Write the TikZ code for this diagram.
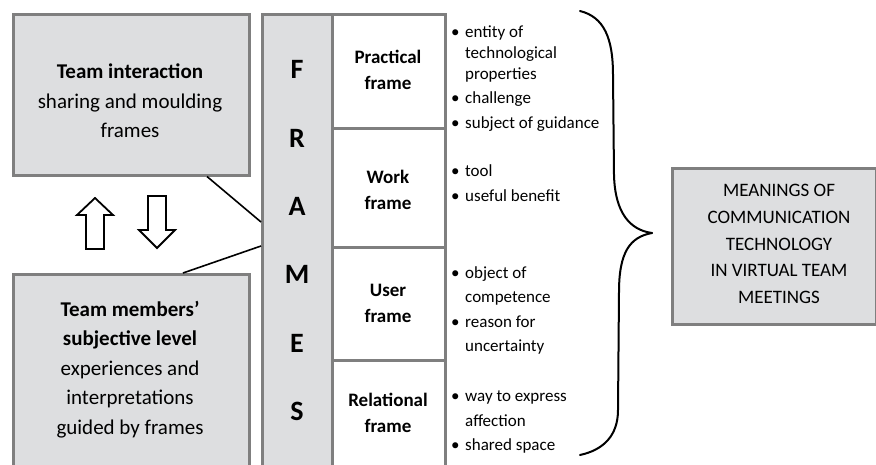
\documentclass[tikz,border=0pt]{standalone}
\usepackage{fontspec}
\setmainfont{Carlito}
\usetikzlibrary{calc}
\definecolor{boxgray}{HTML}{DDDEE0}
\definecolor{edgegray}{HTML}{7F7F7F}
\newcommand\bitem[1]{\makebox[14pt][l]{\textbullet}#1}
\newcommand\bcont[1]{\hspace*{14pt}#1}
\begin{document}
\begin{tikzpicture}[x=1pt,y=-1pt,
  graybox/.style={draw=edgegray,line width=2.5pt,fill=boxgray,inner sep=0pt,anchor=north west},
  framebox/.style={draw=edgegray,line width=2.5pt,fill=white,inner sep=0pt,anchor=north west},
  bigtext/.style={font=\fontsize{21}{29.5}\selectfont,align=center,inner sep=0pt},
  letter/.style={font=\fontsize{28}{30}\selectfont\bfseries,inner sep=0pt},
  flabel/.style={font=\fontsize{19}{26}\selectfont\bfseries,align=center,inner sep=0pt},
  blist/.style={font=\fontsize{17}{21}\selectfont,align=left,inner sep=0pt,anchor=north west},
  blistwide/.style={font=\fontsize{17}{24.5}\selectfont,align=left,inner sep=0pt,anchor=north west},
  rtext/.style={font=\fontsize{19}{26.75}\selectfont,align=center,inner sep=0pt},
  conn/.style={draw=black,line width=1.6pt},
  bigarrow/.style={draw=black,line width=1.8pt,fill=white,line join=miter},
  bracestyle/.style={draw=black,line width=2pt,line cap=round}]
\clip (0,0) rectangle (876,464);
\fill[white] (0,0) rectangle (876,464);
% left boxes
\node[graybox,minimum width=236pt,minimum height=161pt] (top) at (12,13) {};
\node[bigtext] (toptext) at (130,101) {\textbf{Team interaction}\\sharing and moulding\\frames};
\node[graybox,minimum width=236pt,minimum height=220pt] (bot) at (12,273) {};
\node[bigtext] (bottext) at (130,369.5) {\textbf{Team members’}\\\textbf{subjective level}\\experiences and\\interpretations\\guided by frames};
% frames column
\node[graybox,minimum width=70pt,minimum height=480pt] (col) at (261,13) {};
\node[letter] (lF) at (297,69) {F};
\node[letter] (lR) at (297,138) {R};
\node[letter] (lA) at (297,206) {A};
\node[letter] (lM) at (297,274) {M};
\node[letter] (lE) at (297,343) {E};
\node[letter] (lS) at (297,411) {S};
% frame boxes
\node[framebox,minimum width=113pt,minimum height=114pt] (fp) at (331,13) {};
\node[framebox,minimum width=113pt,minimum height=119pt] (fw) at (331,127) {};
\node[framebox,minimum width=113pt,minimum height=113pt] (fu) at (331,246) {};
\node[framebox,minimum width=113pt,minimum height=130pt] (fr) at (331,359) {};
\node[flabel] (tp) at (388,70) {Practical\\frame};
\node[flabel] (tw) at (388,190) {Work\\frame};
\node[flabel] (tu) at (388,303) {User\\frame};
\node[flabel] (tr) at (388,413) {Relational\\frame};
% bullet lists
\node[blist] (bp) at (451,25.5) {\bitem{entity of}\\\bcont{technological}\\\bcont{properties}\\[3pt]\bitem{challenge}\\[4pt]\bitem{subject of guidance}};
\node[blist] (bw) at (451,164) {\bitem{tool}\\[4pt]\bitem{useful benefit}};
\node[blistwide] (bu) at (451,266) {\bitem{object of}\\\bcont{competence}\\\bitem{reason for}\\\bcont{uncertainty}};
\node[blistwide] (br) at (451,391) {\bitem{way to express}\\\bcont{affection}\\\bitem{shared space}};
% right box
\node[graybox,minimum width=204pt,minimum height=156pt] (res) at (671,167) {};
\node[rtext] (restext) at (779,244) {MEANINGS OF\\COMMUNICATION\\TECHNOLOGY\\IN VIRTUAL TEAM\\MEETINGS};
% connectors
\coordinate (c1) at ($(top.south west)+(195,0)$);
\coordinate (c2) at ($(col.north west)+(0,209)$);
\coordinate (c3) at ($(bot.north west)+(171,0)$);
\coordinate (c4) at ($(col.north west)+(0,233)$);
\draw[conn] (c1) -- (c2);
\draw[conn] (c3) -- (c4);
% arrows
\draw[bigarrow] (86,249) -- (86,215) -- (77,215) -- (95,198) -- (113,215) -- (104,215) -- (104,249) -- cycle;
\draw[bigarrow] (148,196) -- (166,196) -- (166,230) -- (175,230) -- (157,248) -- (139,230) -- (148,230) -- cycle;
% brace
\draw[bracestyle] (580,11) .. controls (604,17) and (613,38) .. (613,75) -- (614,175) .. controls (615,213) and (630,230) .. (652,233);
\draw[bracestyle] (652,233) .. controls (630,237) and (619,252) .. (619,292) -- (618,410) .. controls (618,436) and (603,450) .. (580,455);
\end{tikzpicture}
\end{document}
